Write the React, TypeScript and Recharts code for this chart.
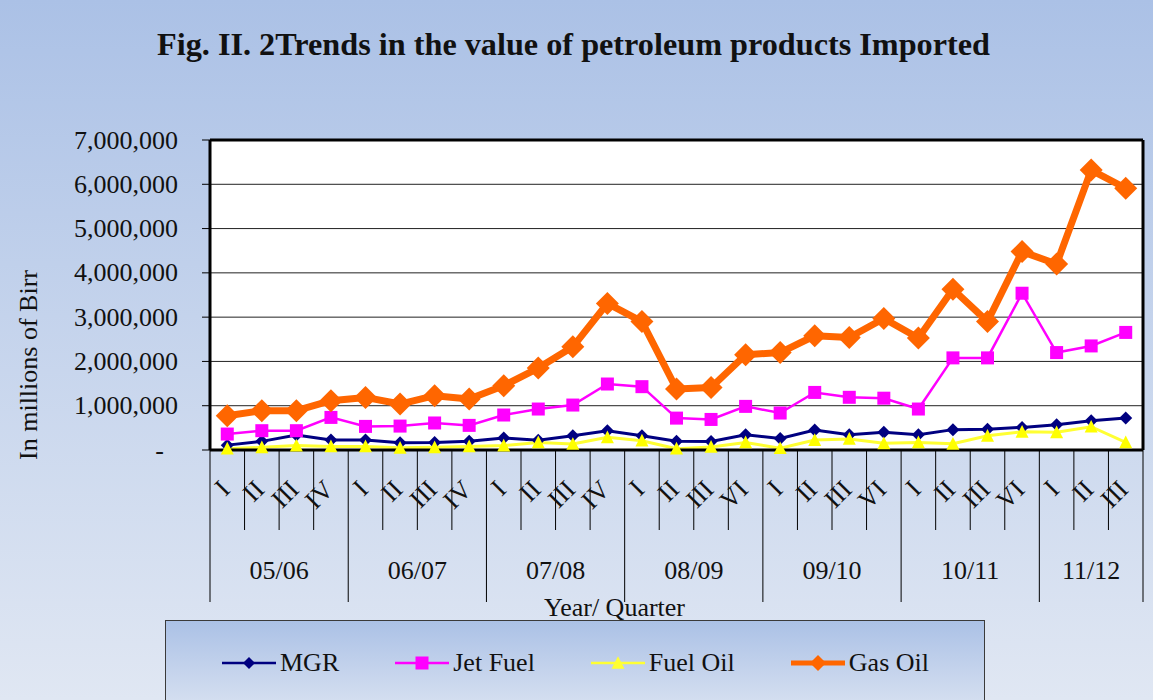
import { LineChart, Line, XAxis, YAxis, CartesianGrid, Label } from "recharts";

// year / quarter categories (the "VI" labels are as printed in the source figure)
const yearLabels = ["05/06", "06/07", "07/08", "08/09", "09/10", "10/11", "11/12"];
const quartersPerYear = [4, 4, 4, 4, 4, 4, 3];
const quarterLabels = [
  "I", "II", "III", "IV",
  "I", "II", "III", "IV",
  "I", "II", "III", "IV",
  "I", "II", "III", "VI",
  "I", "II", "III", "VI",
  "I", "II", "III", "VI",
  "I", "II", "III",
];

// values in Birr
const mgr = [
  110000, 195000, 340000, 226000, 226000, 165000, 170000, 200000, 270000,
  220000, 320000, 435000, 320000, 200000, 190000, 345000, 260000,
  450000, 345000, 400000, 345000, 460000, 470000, 510000, 570000, 660000, 720000,
];
const jetFuel = [
  360000, 436000, 436000, 736000, 533000, 540000, 610000, 556000, 790000,
  925000, 1015000, 1490000, 1430000, 720000, 690000, 985000, 835000,
  1300000, 1190000, 1170000, 925000, 2080000, 2080000, 3540000, 2200000, 2350000, 2655000,
];
const fuelOil = [
  30000, 60000, 100000, 80000, 80000, 50000, 60000, 80000, 100000,
  170000, 135000, 285000, 210000, 30000, 70000, 170000, 40000,
  225000, 250000, 150000, 170000, 140000, 320000, 410000, 400000, 525000, 170000,
];
const gasOil = [
  774000, 887000, 887000, 1113000, 1187000, 1038000, 1226000, 1151000, 1451000,
  1850000, 2330000, 3310000, 2900000, 1377000, 1413000, 2150000, 2200000,
  2580000, 2540000, 2970000, 2530000, 3630000, 2900000, 4480000, 4200000, 6320000, 5910000,
];
const yTicks = [0, 1000000, 2000000, 3000000, 4000000, 5000000, 6000000, 7000000];

const FONT = "'Liberation Serif', 'Times New Roman', serif";
const TEXT = "#111";
const PLOT_LEFT = 210;
const PLOT_RIGHT = 1143;

const yearOfIndex: string[] = [];
const groupStart: Record<number, number> = {};
{
  let i = 0;
  yearLabels.forEach((y, g) => {
    groupStart[i] = quartersPerYear[g];
    for (let k = 0; k < quartersPerYear[g]; k++) yearOfIndex.push(y);
    i += quartersPerYear[g];
  });
}

const data = quarterLabels.map((q, i) => ({
  period: `${yearOfIndex[i]} ${q}#${i}`,
  quarter: q,
  mgr: mgr[i],
  jet: jetFuel[i],
  fuel: fuelOil[i],
  gas: gasOil[i],
}));

const band = (PLOT_RIGHT - PLOT_LEFT) / data.length;

const diamond = (r: number, fill: string) => (p: any) => {
  const { cx, cy, index } = p;
  if (cx == null || cy == null) return <g key={`n${index}`} />;
  return (
    <polygon
      key={`d${index}`}
      points={`${cx},${cy - r} ${cx + r},${cy} ${cx},${cy + r} ${cx - r},${cy}`}
      fill={fill}
    />
  );
};

const square = (s: number, fill: string) => (p: any) => {
  const { cx, cy, index } = p;
  if (cx == null || cy == null) return <g key={`n${index}`} />;
  return <rect key={`s${index}`} x={cx - s / 2} y={cy - s / 2} width={s} height={s} fill={fill} />;
};

const triangle = (s: number, fill: string) => (p: any) => {
  const { cx, cy, index } = p;
  if (cx == null || cy == null) return <g key={`n${index}`} />;
  const h = s * 0.9;
  return (
    <polygon
      key={`t${index}`}
      points={`${cx},${cy - h / 2 - 1} ${cx + s / 2},${cy + h / 2} ${cx - s / 2},${cy + h / 2}`}
      fill={fill}
    />
  );
};

const YTick = (props: any) => {
  const { x, y, payload } = props;
  const zero = payload.value === 0;
  return (
    <text
      x={zero ? x - 14 : x}
      y={y}
      textAnchor="end"
      dominantBaseline="central"
      fontFamily={FONT}
      fontSize={26}
      fill={TEXT}
    >
      {zero ? "-" : Number(payload.value).toLocaleString("en-US")}
    </text>
  );
};

const XTick = (props: any) => {
  const { x, y, index } = props;
  const left = x - band / 2;
  const isStart = groupStart[index] !== undefined;
  const isLast = index === data.length - 1;
  return (
    <g>
      <line x1={left} y1={y} x2={left} y2={y + (isStart ? 152 : 80)} stroke="#000" strokeWidth={1} />
      {isLast && (
        <line x1={x + band / 2} y1={y} x2={x + band / 2} y2={y + 152} stroke="#000" strokeWidth={1} />
      )}
      <text
        x={x - 2}
        y={y + 35}
        transform={`rotate(-45 ${x - 2} ${y + 35})`}
        textAnchor="end"
        dominantBaseline="central"
        fontFamily={FONT}
        fontSize={26}
        fill={TEXT}
      >
        {quarterLabels[index]}
      </text>
      {isStart && (
        <text
          x={x + ((groupStart[index] - 1) / 2) * band}
          y={y + 120}
          textAnchor="middle"
          dominantBaseline="central"
          fontFamily={FONT}
          fontSize={26}
          fill={TEXT}
        >
          {yearOfIndex[index]}
        </text>
      )}
    </g>
  );
};

const legendItems = [
  { name: "MGR", color: "#000080", width: 2.5, marker: "diamond", size: 6 },
  { name: "Jet Fuel", color: "#ff00ff", width: 2.5, marker: "square", size: 13 },
  { name: "Fuel Oil", color: "#ffff33", width: 2.5, marker: "triangle", size: 13 },
  { name: "Gas Oil", color: "#ff6600", width: 5, marker: "diamond", size: 8 },
];

const LegendIcon = ({ item }: { item: (typeof legendItems)[number] }) => {
  const cx = 27;
  const cy = 10;
  let m;
  if (item.marker === "diamond") m = diamond(item.size, item.color)({ cx, cy, index: 0 });
  else if (item.marker === "square") m = square(item.size, item.color)({ cx, cy, index: 0 });
  else m = triangle(item.size, item.color)({ cx, cy, index: 0 });
  return (
    <svg width={54} height={20} style={{ display: "block" }}>
      <line x1={0} y1={cy} x2={54} y2={cy} stroke={item.color} strokeWidth={item.width} />
      {m}
    </svg>
  );
};

export default function App() {
  return (
    <div
      style={{
        position: "absolute",
        left: 0,
        top: 0,
        width: 1153,
        height: 700,
        overflow: "hidden",
        background: "linear-gradient(180deg, #abc1e6 0%, #c4d3ec 45%, #e0e7f3 100%)",
        fontFamily: FONT,
      }}
    >
      <svg width={1153} height={80} style={{ position: "absolute", left: 0, top: 0 }}>
        <text
          x={573.5}
          y={55}
          textAnchor="middle"
          fontFamily={FONT}
          fontWeight="bold"
          fontSize={31}
          fill={TEXT}
          textLength={833}
          lengthAdjust="spacingAndGlyphs"
        >
          Fig. II. 2Trends in the value of petroleum products Imported
        </text>
      </svg>

      <div style={{ position: "absolute", left: 0, top: 0 }}>
        <LineChart
          width={1153}
          height={700}
          data={data}
          margin={{ top: 138, right: 8, left: 0, bottom: 85 }}
        >
          <CartesianGrid vertical={false} stroke="#222" strokeWidth={1} fill="#fff" fillOpacity={1} />
          <XAxis
            dataKey="period"
            type="category"
            interval={0}
            height={165}
            padding={{ left: band / 2, right: band / 2 }}
            axisLine={{ stroke: "#000", strokeWidth: 3 }}
            tickLine={false}
            tickSize={0}
            tickMargin={0}
            tick={<XTick />}
          >
            <Label
              content={(p: any) => {
                const vb = p.viewBox;
                return (
                  <text
                    x={vb.x + vb.width / 2 - 62}
                    y={vb.y + 157}
                    textAnchor="middle"
                    dominantBaseline="central"
                    fontFamily={FONT}
                    fontSize={26}
                    fill={TEXT}
                  >
                    Year/ Quarter
                  </text>
                );
              }}
            />
          </XAxis>
          <XAxis
            xAxisId="top"
            dataKey="period"
            orientation="top"
            height={2}
            tick={false}
            tickLine={false}
            axisLine={{ stroke: "#000", strokeWidth: 3 }}
          />
          <YAxis
            width={210}
            domain={[0, 7000000]}
            ticks={yTicks}
            interval={0}
            tickSize={8}
            tickMargin={24}
            axisLine={{ stroke: "#000", strokeWidth: 3 }}
            tickLine={{ stroke: "#000", strokeWidth: 1 }}
            tick={<YTick />}
          >
            <Label
              content={(p: any) => {
                const vb = p.viewBox;
                const cx = vb.x + 28;
                const cy = vb.y + vb.height / 2 + 70;
                return (
                  <text
                    x={cx}
                    y={cy}
                    transform={`rotate(-90 ${cx} ${cy})`}
                    textAnchor="middle"
                    dominantBaseline="central"
                    fontFamily={FONT}
                    fontSize={26}
                    fill={TEXT}
                  >
                    In millions of Birr
                  </text>
                );
              }}
            />
          </YAxis>
          <YAxis
            yAxisId="right"
            orientation="right"
            width={2}
            domain={[0, 1]}
            tick={false}
            tickLine={false}
            axisLine={{ stroke: "#000", strokeWidth: 3 }}
          />
          <Line
            dataKey="mgr"
            name="MGR"
            stroke="#000080"
            strokeWidth={3}
            dot={diamond(6.5, "#000080")}
            activeDot={false}
            isAnimationActive={false}
          />
          <Line
            dataKey="jet"
            name="Jet Fuel"
            stroke="#ff00ff"
            strokeWidth={2.5}
            dot={square(13, "#ff00ff")}
            activeDot={false}
            isAnimationActive={false}
          />
          <Line
            dataKey="fuel"
            name="Fuel Oil"
            stroke="#ffff33"
            strokeWidth={3}
            dot={triangle(13, "#ffff00")}
            activeDot={false}
            isAnimationActive={false}
          />
          <Line
            dataKey="gas"
            name="Gas Oil"
            stroke="#ff6600"
            strokeWidth={7}
            strokeLinejoin="round"
            dot={diamond(11.5, "#ff6600")}
            activeDot={false}
            isAnimationActive={false}
          />
        </LineChart>
      </div>

      <div
        style={{
          position: "absolute",
          left: 165,
          top: 620,
          width: 820,
          height: 100,
          boxSizing: "border-box",
          border: "1.5px solid #3a3a3a",
          background: "linear-gradient(180deg, #abc1e6 0%, #dde5f2 100%)",
          display: "flex",
          alignItems: "flex-start",
          paddingLeft: 56,
          paddingTop: 30,
          gap: 56,
        }}
      >
        {legendItems.map((item) => (
          <div key={item.name} style={{ display: "flex", alignItems: "center", gap: 4 }}>
            <LegendIcon item={item} />
            <span style={{ fontSize: 26, color: TEXT, lineHeight: "24px" }}>{item.name}</span>
          </div>
        ))}
      </div>
    </div>
  );
}
